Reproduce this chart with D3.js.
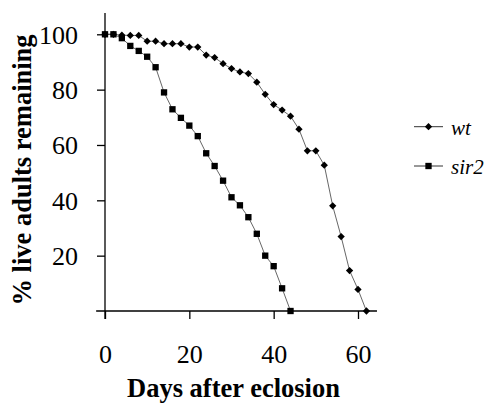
<!DOCTYPE html>
<html>
<head>
<meta charset="utf-8">
<script src="https://d3js.org/d3.v7.min.js"></script>
<style>
  body { margin: 0; background: #fff; }
  text { font-family: "Liberation Serif", "Times New Roman", serif; fill: #000; }
</style>
</head>
<body>
<div id="chart"></div>
<script>
// survival data (every 2 days)
const days = [0, 2, 4, 6, 8, 10, 12, 14, 16, 18, 20, 22, 24, 26, 28, 30, 32, 34, 36, 38, 40, 42, 44, 46, 48, 50, 52, 54, 56, 58, 60, 62];
const wtValues = [100, 100, 99.7, 99.6, 99.6, 97.5, 97.5, 96.6, 96.6, 96.6, 95.4, 95.4, 92.5, 91.6, 89.4, 87.6, 86.4, 85.8, 82.7, 78.3, 74.6, 72.6, 70.4, 65.7, 57.9, 57.9, 52.7, 38, 26.9, 14.6, 7.8, 0];
const sir2Values = [100, 100, 98.6, 95.8, 94, 91.9, 88.1, 79, 72.9, 69.8, 67, 63.2, 57, 52.4, 47.1, 41.1, 38.2, 33.9, 27.9, 20, 16.2, 8.2, 0];
const xTicks = [0, 20, 40, 60];
const yTicks = [20, 40, 60, 80, 100];
const seriesNames = ["wt", "sir2"];

const width = 493, height = 405;

const svg = d3.select("#chart").append("svg")
    .attr("width", width)
    .attr("height", height);

const x = d3.scaleLinear().domain([0, 60]).range([105, 358]);
const y = d3.scaleLinear().domain([0, 100]).range([311, 34.3]);

// axes
const xAxis = svg.append("g")
    .attr("transform", `translate(0,${y(0)})`)
    .call(d3.axisBottom(x).tickValues(xTicks).tickSize(8).tickSizeOuter(0));
xAxis.select(".domain").remove();
xAxis.selectAll(".tick line").attr("stroke", "#000").attr("stroke-width", 1.3);
xAxis.selectAll(".tick text")
    .attr("y", 52).attr("dy", 0)
    .style("font-size", "26px");

const yAxis = svg.append("g")
    .attr("transform", `translate(${x(0)},0)`)
    .call(d3.axisLeft(y).tickValues(yTicks).tickSize(8).tickSizeOuter(0));
yAxis.select(".domain").remove();
yAxis.selectAll(".tick line").attr("stroke", "#000").attr("stroke-width", 1.3);
yAxis.selectAll(".tick text")
    .attr("x", -27).attr("dy", "0.34em")
    .style("font-size", "26px");

svg.append("line")
    .attr("x1", x(-2.1)).attr("x2", x(64.5))
    .attr("y1", y(0)).attr("y2", y(0))
    .attr("stroke", "#000").attr("stroke-width", 1.3);
svg.append("line")
    .attr("x1", x(0)).attr("x2", x(0))
    .attr("y1", y(107.7)).attr("y2", y(-2.9))
    .attr("stroke", "#000").attr("stroke-width", 1.3);

// series
const line = d3.line().x(d => x(d[0])).y(d => y(d[1]));
const diamond = d3.symbol().type(d3.symbolDiamond2).size(34);
const square = d3.symbol().type(d3.symbolSquare).size(40);

const wtData = wtValues.map((v, i) => [days[i], v]);
const sir2Data = sir2Values.map((v, i) => [days[i], v]);

function drawSeries(data, symbol) {
    svg.append("path")
        .datum(data)
        .attr("fill", "none")
        .attr("stroke", "#555")
        .attr("stroke-width", 0.9)
        .attr("d", line);
    svg.append("g").selectAll("path")
        .data(data)
        .join("path")
        .attr("transform", d => `translate(${x(d[0])},${y(d[1])})`)
        .attr("d", symbol)
        .attr("fill", "#000");
}
drawSeries(sir2Data, square);
drawSeries(wtData, diamond);

// legend
const legend = svg.append("g");
[[seriesNames[0], diamond, 126.7], [seriesNames[1], square, 166]].forEach(([name, sym, ly]) => {
    legend.append("line")
        .attr("x1", 414).attr("x2", 443)
        .attr("y1", ly).attr("y2", ly)
        .attr("stroke", "#333").attr("stroke-width", 1);
    legend.append("path")
        .attr("transform", `translate(428.5,${ly})`)
        .attr("d", sym)
        .attr("fill", "#000");
    legend.append("text")
        .attr("x", 451).attr("y", ly + 8)
        .style("font-size", "21px")
        .style("font-style", "italic")
        .text(name);
});

// axis titles
svg.append("text")
    .attr("x", 233.5).attr("y", 397)
    .attr("text-anchor", "middle")
    .style("font-size", "26.5px")
    .style("font-weight", "bold")
    .text("Days after eclosion");

svg.append("text")
    .attr("transform", "translate(31,170) rotate(-90)")
    .attr("text-anchor", "middle")
    .style("font-size", "26.5px")
    .style("font-weight", "bold")
    .text("% live adults remaining");
</script>
</body>
</html>
